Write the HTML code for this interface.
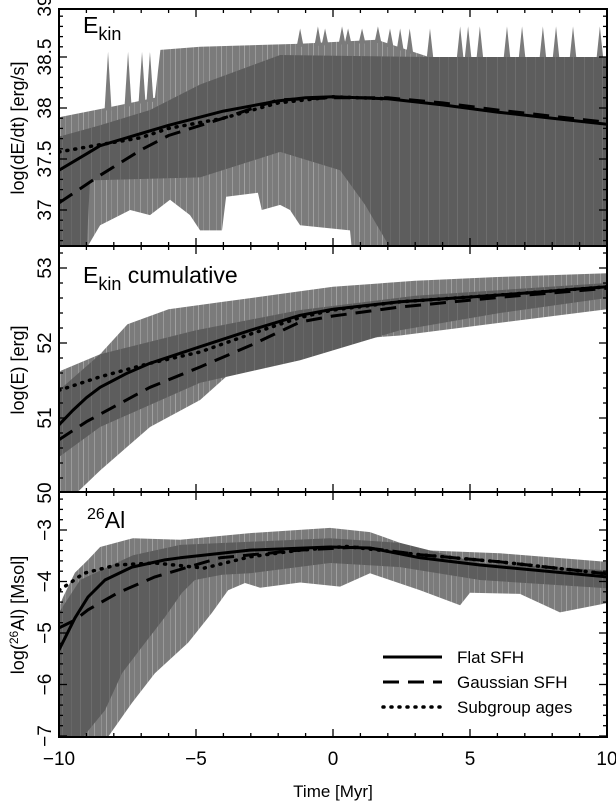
<!DOCTYPE html>
<html><head><meta charset="utf-8">
<style>
html,body{margin:0;padding:0;background:#fff;}
svg{display:block;font-family:"Liberation Sans",sans-serif;}
</style></head>
<body>
<svg id="chart" width="616" height="802" viewBox="0 0 616 802" xmlns="http://www.w3.org/2000/svg">
<defs>
<pattern id="pOuter" width="23" height="10" patternUnits="userSpaceOnUse">
<rect width="23" height="10" fill="#7b7b7b"/>
<rect x="2" width="1" height="10" fill="#9a9a9a"/><rect x="9" width="1" height="10" fill="#919191"/><rect x="14" width="1" height="10" fill="#a0a0a0"/><rect x="19" width="1" height="10" fill="#8e8e8e"/>
</pattern>
<pattern id="pInner" width="29" height="10" patternUnits="userSpaceOnUse">
<rect width="29" height="10" fill="#5d5d5d"/>
<rect x="4" width="1" height="10" fill="#6c6c6c"/><rect x="13" width="1" height="10" fill="#676767"/><rect x="22" width="1" height="10" fill="#6e6e6e"/>
</pattern>
<clipPath id="c1"><rect x="59" y="9" width="548" height="237"/></clipPath>
<clipPath id="c2"><rect x="59" y="246" width="548" height="246"/></clipPath>
<clipPath id="c3"><rect x="59" y="492" width="548" height="245"/></clipPath>
</defs>
<g id="layer"></g>
</svg>
<script>
// ---------- data ----------
// Panel 1: log(dE/dt)
const p1Times = [-10,-9,-8.5,-7,-6,-4,-2,-1,0,2,4,6,8,10];
const p1Flat  = [37.39,37.55,37.63,37.75,37.83,37.97,38.07,38.1,38.11,38.09,38.03,37.96,37.90,37.84];
const p1GaussT = [-10,-8.5,-7,-6,-4,-2,0,2,4,6,8,10];
const p1Gauss = [37.07,37.34,37.59,37.73,37.90,38.08,38.10,38.10,38.05,37.98,37.92,37.86];
const p1SubT  = [-10,-8.5,-7,-6,-4,-2,0,2];
const p1Sub   = [37.57,37.64,37.71,37.80,37.90,38.05,38.11,38.09];
const p1OuterUpT = [-10,-8.3,-6.5,-6.3,-4.85,-1.2,1.6,3.5,10];
const p1OuterUp  = [37.91,38.0,38.1,38.57,38.60,38.63,38.67,38.50,38.50];
const p1SpikeT = [-8.21,-7.48,-6.97,-6.68,-1.2,-0.55,-0.29,0.33,0.55,1.06,1.64,2.08,2.45,2.8,3.54,4.64,4.93,5.36,6.35,6.9,7.66,8.14,8.76,9.74];
const p1SpikeV = [38.55,38.55,38.55,38.55,38.78,38.8,38.78,38.8,38.78,38.78,38.8,38.78,38.78,38.78,38.78,38.8,38.8,38.8,38.8,38.8,38.8,38.8,38.8,38.8];
const p1OuterLoT = [-10,-9.05,-8.5,-7.4,-6.68,-5.95,-5.22,-4.85,-4.05,-3.9,-2.74,-2.6,-1.93,-1.57,-1.2,0.62,0.8,10];
const p1OuterLo  = [36.3,36.6,36.85,37.0,36.95,37.1,36.95,36.8,36.8,37.13,37.17,37.0,37.05,37.0,36.85,36.8,36.3,36.3];
const p1InnerUpT = [-10,-8.5,-6.68,-4.85,-1.93,3.5,10];
const p1InnerUp  = [37.72,37.83,37.98,38.23,38.52,38.50,38.50];
const p1InnerLoT = [-10,-9.05,-8.87,-4.85,-1.93,0.26,1.17,2.8,10];
const p1InnerLo  = [36.3,36.3,37.29,37.32,37.57,37.39,37.05,36.3,36.3];
// Panel 2: log(E)
const p2Times = [-10,-9.5,-9,-8.5,-7.5,-6.68,-4.85,-3,-1.2,0,2.45,6.09,10];
const p2Flat  = [50.91,51.1,51.27,51.41,51.6,51.73,51.95,52.17,52.37,52.45,52.55,52.64,52.75];
const p2GaussT = [-10,-9,-8,-6.68,-4.85,-3,-1.2,0,2.45,6.09,10];
const p2Gauss = [50.71,50.95,51.15,51.41,51.68,51.97,52.28,52.36,52.48,52.61,52.73];
const p2SubT  = [-10,-8.5,-6.68,-4.85,-3,-1.2,0,2.45,6.09,10];
const p2Sub   = [51.37,51.55,51.73,51.88,52.12,52.34,52.44,52.55,52.64,52.75];
const p2OuterUpT = [-10,-8.5,-7.5,-6,-4,-2,0,3,6,10];
const p2OuterUp  = [51.62,51.85,52.25,52.45,52.55,52.65,52.75,52.83,52.88,52.93];
const p2InnerUpT = [-10,-8.5,-5,-1.2,3,10];
const p2InnerUp  = [51.37,51.85,52.17,52.44,52.63,52.80];
const p2InnerLoT = [-10,-8.5,-4.85,-1.2,2.45,6.09,10];
const p2InnerLo  = [50.48,50.88,51.47,51.77,52.17,52.40,52.60];
const p2OuterLoT = [-10,-9.5,-8.5,-6.68,-4.85,-3.75,-1.2,2.45,10];
const p2OuterLo  = [49.9,49.95,50.3,50.88,51.24,51.60,52.0,52.1,52.45];
// Panel 3: log(26Al)
const p3Times = [-10,-9.42,-8.94,-8.32,-7.34,-6.13,-5.58,-3.03,-0.11,1.35,3.18,5.36,10];
const p3Flat  = [-5.33,-4.71,-4.3,-3.97,-3.72,-3.58,-3.54,-3.39,-3.33,-3.35,-3.54,-3.68,-3.91];
const p3GaussT = [-10,-9.42,-8.94,-7.85,-6.5,-5.29,-4.12,-1.2,0.99,3.18,6.09,10];
const p3Gauss  = [-4.9,-4.75,-4.55,-4.22,-3.91,-3.72,-3.54,-3.39,-3.33,-3.48,-3.62,-3.85];
const p3SubT = [-10,-9.6,-9.1,-7.9,-6.5,-4.7,-3.03,-1.2,0.5,3.18,6.09,10];
const p3Sub  = [-4.17,-4.03,-3.84,-3.68,-3.64,-3.74,-3.52,-3.39,-3.32,-3.48,-3.62,-3.85];
const p3OuterUpT = [-10,-9.85,-9.42,-8.94,-8.5,-7.3,-5.58,-3.03,-0.11,1.35,3.18,6.09,10];
const p3OuterUp  = [-4.5,-4.3,-3.83,-3.58,-3.33,-3.16,-3.19,-3.06,-2.96,-3.04,-3.39,-3.45,-3.62];
const p3InnerUpT = [-10,-9.23,-7.3,-5.58,-0.11,2.45,5.36,10];
const p3InnerUp  = [-4.6,-3.97,-3.49,-3.29,-3.16,-3.25,-3.64,-3.78];
const p3InnerLoT = [-10,-9.12,-8.32,-7.7,-6.97,-6.13,-5.51,-5.04,-4.05,-3.03,-0.11,2.45,5.36,10];
const p3InnerLo  = [-7.3,-7.02,-6.5,-5.78,-5.27,-4.69,-4.22,-3.97,-3.87,-3.84,-3.64,-3.72,-3.97,-4.13];
const p3OuterLoT = [-10,-8.4,-8.21,-7.34,-6.5,-5.29,-4.42,-3.83,-3.21,-2.66,-1.2,0.26,1.35,3.18,4.64,5.0,6.82,7.55,8.28,10];
const p3OuterLo  = [-7.3,-7.3,-7.02,-6.36,-5.78,-5.19,-4.61,-4.17,-4.03,-4.12,-4.02,-4.1,-3.84,-4.17,-4.46,-4.22,-4.24,-4.42,-4.6,-4.42];
// ticks
const xTickLabels = ["\u221210","\u22125","0","5","10"];
const xTickValues = [-10,-5,0,5,10];
const y1Ticks = [37,37.5,38,38.5,39];
const y2Ticks = [50,51,52,53];
const y3Ticks = [-7,-6,-5,-4,-3];

// ---------- scales ----------
const X0=59, X1=607;
function xs(t){return X0+(t+10)/20*(X1-X0);}
const panels=[
 {top:9,bot:246,y:v=>108-(v-38)*102,min:36.657,max:38.98,minor:0.1,major:0.5,clip:"c1"},
 {top:246,bot:492,y:v=>343-(v-52)*75,min:50,max:53.3,minor:0.2,major:1,clip:"c2"},
 {top:492,bot:737,y:v=>530-(v+3)*51.5,min:-7,max:-2.24,minor:0.2,major:1,clip:"c3"}
];
const NS="http://www.w3.org/2000/svg";
const layer=document.getElementById('layer');
function mk(tag,attrs,parent){const e=document.createElementNS(NS,tag);for(const k in attrs)e.setAttribute(k,attrs[k]);(parent||layer).appendChild(e);return e;}
function pts(T,V,ys){return T.map((t,i)=>xs(t).toFixed(1)+","+ys(V[i]).toFixed(1));}
function interp(T,V,t){for(let i=0;i<T.length-1;i++){if(t>=T[i]&&t<=T[i+1]){const f=(t-T[i])/(T[i+1]-T[i]);return V[i]+f*(V[i+1]-V[i]);}}return V[V.length-1];}
function band(p,upT,up,loT,lo,fill,name){
  const a=pts(upT,up,p.y), b=pts(loT,lo,p.y).reverse();
  const el=mk('polygon',{points:a.concat(b).join(' '),fill:fill,'clip-path':'url(#'+p.clip+')'});
  
  
}
function line(p,T,V,dash,name,w){
  const el=mk('polyline',{points:pts(T,V,p.y).join(' '),fill:'none',stroke:'#000','stroke-width':w||3,'stroke-dasharray':dash,'stroke-linejoin':'round','stroke-linecap':dash==='1 7'?'round':'butt','clip-path':'url(#'+p.clip+')'});
  
  
}
const P1=panels[0],P2=panels[1],P3=panels[2];
// panel 1
band(P1,p1OuterUpT,p1OuterUp,p1OuterLoT,p1OuterLo,'url(#pOuter)','edot-outer-band');
p1SpikeT.forEach((t,i)=>{
  const x=xs(t), b=P1.y(interp(p1OuterUpT,p1OuterUp,t))+3, topY=P1.y(p1SpikeV[i]);
  const el=mk('polygon',{points:(x-3.5)+","+b+" "+x+","+topY+" "+(x+3.5)+","+b,fill:'#7b7b7b','clip-path':'url(#c1)'});
  
  
});
band(P1,p1InnerUpT,p1InnerUp,p1InnerLoT,p1InnerLo,'url(#pInner)','edot-inner-band');
line(P1,p1Times,p1Flat,'none','edot-flat-line');
line(P1,p1GaussT,p1Gauss,'16 9','edot-gauss-line');
line(P1,p1SubT,p1Sub,'1 7','edot-subgroup-line',3.5);
// panel 2
band(P2,p2OuterUpT,p2OuterUp,p2OuterLoT,p2OuterLo,'url(#pOuter)','ecum-outer-band');
band(P2,p2InnerUpT,p2InnerUp,p2InnerLoT,p2InnerLo,'url(#pInner)','ecum-inner-band');
line(P2,p2Times,p2Flat,'none','ecum-flat-line');
line(P2,p2GaussT,p2Gauss,'16 9','ecum-gauss-line');
line(P2,p2SubT,p2Sub,'1 7','ecum-subgroup-line',3.5);
// panel 3
band(P3,p3OuterUpT,p3OuterUp,p3OuterLoT,p3OuterLo,'url(#pOuter)','al-outer-band');
band(P3,p3InnerUpT,p3InnerUp,p3InnerLoT,p3InnerLo,'url(#pInner)','al-inner-band');
line(P3,p3Times,p3Flat,'none','al-flat-line');
line(P3,p3GaussT,p3Gauss,'16 9','al-gauss-line');
line(P3,p3SubT,p3Sub,'1 7','al-subgroup-line',3.5);

// frames & ticks
const yTickSets=[y1Ticks,y2Ticks,y3Ticks];
const yLabels=[["37","37.5","38","38.5","39"],["50","51","52","53"],["\u22127","\u22126","\u22125","\u22124","\u22123"]];
panels.forEach((p,pi)=>{
  const fr=mk('rect',{x:X0,y:p.top,width:X1-X0,height:p.bot-p.top,fill:'none',stroke:'#000','stroke-width':2});
  
  
  for(let t=-10;t<=10;t++){
    const L=(t%5===0)?8:4, x=xs(t);
    mk('line',{x1:x,y1:p.bot,x2:x,y2:p.bot-L,stroke:'#000','stroke-width':1.3});
    mk('line',{x1:x,y1:p.top,x2:x,y2:p.top+L,stroke:'#000','stroke-width':1.3});
  }
  const start=Math.ceil(p.min/p.minor-1e-6);
  for(let k=start;k*p.minor<=p.max+1e-6;k++){
    const v=k*p.minor, y=p.y(v);
    if(y<p.top-0.5||y>p.bot+0.5)continue;
    const maj=Math.abs(v/p.major-Math.round(v/p.major))<1e-6, L=maj?8:4;
    mk('line',{x1:X0,y1:y,x2:X0+L,y2:y,stroke:'#000','stroke-width':1.3});
    mk('line',{x1:X1,y1:y,x2:X1-L,y2:y,stroke:'#000','stroke-width':1.3});
  }
  yTickSets[pi].forEach((v,i)=>{
    const y=p.y(v);
    const tx=mk('text',{x:0,y:0,'font-size':19,fill:'#000','text-anchor':'middle',transform:'translate(51,'+y.toFixed(1)+') rotate(-90)'});
    tx.textContent=yLabels[pi][i];
    
    
  });
});
xTickValues.forEach((v,i)=>{
  const tx=mk('text',{x:xs(v),y:765,'font-size':19,'text-anchor':'middle',fill:'#000'});
  tx.textContent=xTickLabels[i];
  
  
});
</script>
<script>
(function(){
const NS="http://www.w3.org/2000/svg",svg=document.getElementById('chart');
function t(x,y,size,html,name,rot,anchor){const e=document.createElementNS(NS,'text');e.setAttribute('x',x);e.setAttribute('y',y);e.setAttribute('font-size',size);e.setAttribute('fill','#000');if(anchor)e.setAttribute('text-anchor',anchor);if(rot)e.setAttribute('transform',rot);e.innerHTML=html;


svg.appendChild(e);return e;}
t(83,33,23,'E<tspan font-size="18" dy="7">kin</tspan>','panel1-title');
t(83,283,23,'E<tspan font-size="18" dy="7">kin</tspan><tspan dy="-7">  cumulative</tspan>','panel2-title');
t(87,528,23,'<tspan font-size="16" dy="-9">26</tspan><tspan dy="9">Al</tspan>','panel3-title');
t(333,797,17,'Time [Myr]','x-axis-title',null,'middle');
t(0,0,18,'log(dE/dt)  [erg/s]','y-axis-title-1','translate(24,128) rotate(-90)','middle');
t(0,0,18,'log(E)  [erg]','y-axis-title-2','translate(24,370) rotate(-90)','middle');
t(0,0,18,'log(<tspan font-size="12" dy="-6">26</tspan><tspan dy="6">Al)  [Msol]</tspan>','y-axis-title-3','translate(24,615) rotate(-90)','middle');
const L=[["none","Flat SFH",663],["16 9","Gaussian SFH",688],["1 7","Subgroup ages",713]];
L.forEach(function(l){
 const ln=document.createElementNS(NS,'line');
 ln.setAttribute('x1',383);ln.setAttribute('x2',442);ln.setAttribute('y1',l[2]-6);ln.setAttribute('y2',l[2]-6);
 ln.setAttribute('stroke','#000');ln.setAttribute('stroke-width',l[0]==='1 7'?3.5:3);ln.setAttribute('stroke-dasharray',l[0]);
 if(l[0]==='1 7')ln.setAttribute('stroke-linecap','round');
 
 
 svg.appendChild(ln);
 t(457,l[2],17,l[1],'legend-label');
});
})();
</script>
</body></html>
